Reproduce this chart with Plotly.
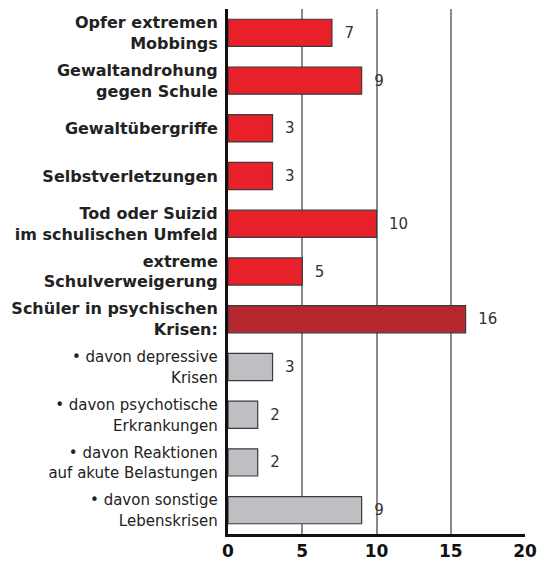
import plotly.graph_objects as go

# Kategorien (von oben nach unten)
categories = [
    "<b>Opfer extremen<br>Mobbings</b>",
    "<b>Gewaltandrohung<br>gegen Schule</b>",
    "<b>Gewaltübergriffe</b>",
    "<b>Selbstverletzungen</b>",
    "<b>Tod oder Suizid<br>im schulischen Umfeld</b>",
    "<b>extreme<br>Schulverweigerung</b>",
    "<b>Schüler in psychischen<br>Krisen:</b>",
    "• davon depressive<br>Krisen",
    "• davon psychotische<br>Erkrankungen",
    "• davon Reaktionen<br>auf akute Belastungen",
    "• davon sonstige<br>Lebenskrisen",
]
values = [7, 9, 3, 3, 10, 5, 16, 3, 2, 2, 9]
bar_colors = ["#E8202A"] * 6 + ["#B5282F"] + ["#BEBFC3"] * 4
x_ticks = [0, 5, 10, 15, 20]

# Unterpunkte etwas kleiner setzen
tick_labels = [c if c.startswith("<b>") else '<span style="font-size:15px">%s</span>' % c
               for c in categories]

fig = go.Figure()

fig.add_trace(
    go.Bar(
        x=values,
        y=list(range(len(categories))),
        orientation='h',
        marker=dict(color=bar_colors, line=dict(color='#3a3a3a', width=1.2)),
        width=0.57,
        text=["  " + str(v) for v in values],
        textposition='outside',
        textfont=dict(size=15, color='#333333', family='DejaVu Sans'),
        cliponaxis=False,
        showlegend=False,
    )
)

# Seite hat 8px Body-Rand -> Figur entsprechend kleiner
fig.update_layout(
    width=545,
    height=553,
    margin=dict(l=220, r=28, t=1, b=27),
    plot_bgcolor='white',
    paper_bgcolor='white',
    font=dict(family='DejaVu Sans', color='#222222'),
)

fig.update_xaxes(
    range=[0, 20],
    tickvals=x_ticks,
    ticktext=["<b>%d</b>" % t for t in x_ticks],
    tickfont=dict(size=17, color='#111111'),
    showgrid=True,
    gridcolor='#8a8a8a',
    gridwidth=1.5,
    showline=True,
    linecolor='#111111',
    linewidth=3,
    zeroline=False,
    ticks='',
    ticklabelstandoff=0,
    automargin=False,
)

fig.update_yaxes(
    range=[len(categories) - 0.5, -0.5],
    tickvals=list(range(len(categories))),
    ticktext=tick_labels,
    tickfont=dict(size=16, color='#222222'),
    showline=True,
    linecolor='#111111',
    linewidth=3,
    showgrid=False,
    zeroline=False,
    ticks='',
    ticklabelstandoff=4,
    automargin=False,
)

fig.write_html("out.html")
